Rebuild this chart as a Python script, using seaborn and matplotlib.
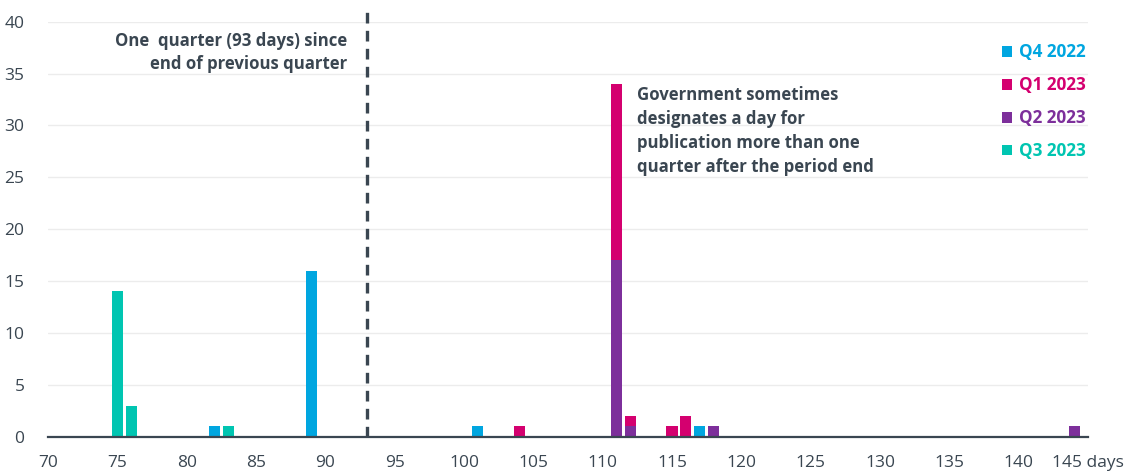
import matplotlib
matplotlib.use("Agg")
import matplotlib.pyplot as plt
from matplotlib.patches import Patch
import pandas as pd
import seaborn as sns

# days from period end to publication, and number of publications
quarters = ["Q4 2022", "Q1 2023", "Q2 2023", "Q3 2023"]
colors = ["#00a6e0", "#d4006f", "#7d2f9b", "#00c5b1"]

q4_days = [82, 89, 101, 117]
q4_counts = [1, 16, 1, 1]
q1_days = [104, 111, 112, 115, 116]
q1_counts = [1, 17, 1, 1, 2]
q2_days = [111, 112, 118, 144]
q2_counts = [17, 1, 1, 1]
q3_days = [75, 76, 83]
q3_counts = [14, 3, 1]

x_ticks = [70, 75, 80, 85, 90, 95, 100, 105, 110, 115, 120, 125, 130, 135, 140, 145]
x_labels = [str(t) for t in x_ticks[:-1]] + ["145 days"]
y_ticks = [0, 5, 10, 15, 20, 25, 30, 35, 40]

rows = []
for q, d, c in zip(quarters, [q4_days, q1_days, q2_days, q3_days],
                   [q4_counts, q1_counts, q2_counts, q3_counts]):
    for day, n in zip(d, c):
        rows.append({"day": day, "count": n, "quarter": q})
df = pd.DataFrame(rows)

sns.set_style("white")
plt.rcParams["font.family"] = ["Open Sans", "DejaVu Sans"]
dark = "#3a4651"

fig = plt.figure(figsize=(11.29, 4.71), dpi=100)
ax = fig.add_axes([48 / 1129, 1 - 436.7 / 471, (1088 - 48) / 1129, (436.7 - 21.7) / 471])

sns.histplot(data=df, x="day", weights="count", hue="quarter", hue_order=quarters,
             palette=dict(zip(quarters, colors)), multiple="stack", discrete=True,
             shrink=0.8, alpha=1, linewidth=0, legend=False, ax=ax)

ax.set_xlim(70, 145)
ax.set_ylim(0, 40)
ax.set_xticks(x_ticks)
ax.set_xticklabels(x_labels)
ax.set_yticks(y_ticks)
ax.set_xlabel("")
ax.set_ylabel("")
ax.tick_params(axis="x", length=0, pad=13, labelsize=12.5, labelcolor=dark)
ax.tick_params(axis="y", length=0, pad=17, labelsize=12.5, labelcolor=dark)
ax.grid(axis="y", color="#ececec", linewidth=1)
ax.set_axisbelow(True)
for s in ["top", "right", "left"]:
    ax.spines[s].set_visible(False)
ax.spines["bottom"].set_color(dark)
ax.spines["bottom"].set_linewidth(1.6)

ax.plot([93, 93], [0, 40.9], color=dark, linewidth=2.4, linestyle=(0, (3.2, 2.2)),
        clip_on=False, zorder=3)

ax.text(91.6, 39.05, "One  quarter (93 days) since\nend of previous quarter",
        ha="right", va="top", fontsize=12.1, fontweight="bold", color=dark,
        linespacing=1.38)
ax.text(112.5, 33.8, "Government sometimes\ndesignates a day for\npublication more than one\n"
        "quarter after the period end",
        ha="left", va="top", fontsize=12.1, fontweight="bold", color=dark,
        linespacing=1.42)

handles = [Patch(facecolor=c, edgecolor="none") for c in colors]
ax.legend(handles, quarters, labelcolor=colors, frameon=False,
          loc="upper right", bbox_to_anchor=(1086 / 1129, 1 - 43.5 / 471),
          bbox_transform=fig.transFigure, borderpad=0, borderaxespad=0,
          handlelength=0.6, handleheight=0.6, handletextpad=0.4, labelspacing=0.87,
          prop={"size": 12.3, "weight": "bold"})

fig.savefig("out.png", dpi=100)
